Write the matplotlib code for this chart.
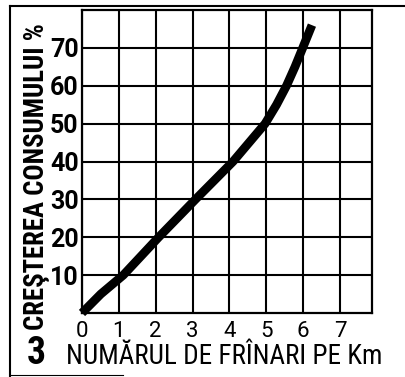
import matplotlib
matplotlib.use("Agg")
import matplotlib.pyplot as plt
from matplotlib import font_manager
from matplotlib.lines import Line2D

# Braking frequency vs. increase in fuel consumption
brakes_per_km = [0, 0.51, 1.12, 2.08, 3.08, 4.1, 4.97, 5.28, 5.55, 5.78, 5.99, 6.24]
consumption_increase = [0, 5, 10, 20, 30, 40, 50, 55, 60, 65, 70, 76]

x_ticks = [0, 1, 2, 3, 4, 5, 6, 7]
y_ticks = [10, 20, 30, 40, 50, 60, 70]
x_label = "NUMĂRUL DE FRÎNARI PE Km"
y_label = "CREŞTEREA CONSUMULUI %"
fig_number = "3"

names = {f.name for f in font_manager.fontManager.ttflist}


def pick(cands):
    for c in cands:
        if c in names:
            return [c, "DejaVu Sans"]
    return ["DejaVu Sans"]


narrow = pick(["Roboto Condensed", "Liberation Sans Narrow", "Roboto", "Liberation Sans"])
plain = pick(["Roboto", "Liberation Sans"])
plt.rcParams["font.family"] = plain

W, H = 406, 377
fig = plt.figure(figsize=(W / 100, H / 100), dpi=100)
fig.patch.set_facecolor("white")

ax = fig.add_axes([82 / W, (H - 313) / H, (372 - 82) / W, (313 - 10) / H])
ax.set_xlim(0, 7.87)
ax.set_ylim(0, 80)
ax.set_xticks(x_ticks)
ax.set_yticks(y_ticks)
ax.set_xticklabels([str(v) for v in x_ticks], fontsize=16, family=plain)
ax.set_yticklabels([str(v) for v in y_ticks], fontsize=18, fontweight="bold", family=plain)
ax.tick_params(length=0)
ax.tick_params(axis="x", pad=5.5)
ax.tick_params(axis="y", pad=2.5)
ax.grid(True, color="black", linewidth=1.5)
ax.set_axisbelow(True)
for s in ax.spines.values():
    s.set_linewidth(1.6)
    s.set_color("black")

ax.plot(brakes_per_km, consumption_increase, color="black", linewidth=6.3,
        solid_capstyle="butt", solid_joinstyle="round", clip_on=False, zorder=5)

# axis titles and figure number
fig.text(37 / W, 1 - 177 / H, y_label, rotation=90, ha="center", va="center",
         fontsize=19.3, fontweight="bold", family=narrow)
fig.text(224 / W, 1 - 357 / H, x_label, ha="center", va="center",
         fontsize=19.5, family=narrow)
fig.text(36 / W, 1 - 354 / H, fig_number, ha="center", va="center",
         fontsize=27, fontweight="bold", family=narrow)

# page frame
fig.add_artist(Line2D([10 / W, 10 / W], [0, 1 - 6 / H], color="black", linewidth=1.5))
fig.add_artist(Line2D([10 / W, 1], [1 - 6 / H, 1 - 6 / H], color="black", linewidth=1.5))
fig.add_artist(Line2D([10 / W, 123 / W], [1 - 375 / H, 1 - 375 / H], color="black", linewidth=0.8))

fig.savefig("out.png", dpi=100, facecolor="white")
